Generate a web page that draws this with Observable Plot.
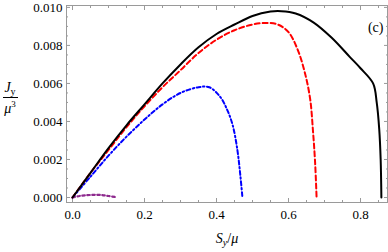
<!DOCTYPE html>
<html>
<head>
<meta charset="utf-8">
<script src="https://cdn.jsdelivr.net/npm/d3@7"></script>
<script src="https://cdn.jsdelivr.net/npm/@observablehq/plot@0.6"></script>
<style>
  html, body { margin: 0; padding: 0; background: white; }
  #chart { width: 388px; height: 252px; }
</style>
</head>
<body>
<div id="chart"></div>
<script>
// ---- data ----
const blackX = [0, 0.05, 0.1, 0.15, 0.2, 0.25, 0.3, 0.35, 0.4, 0.45, 0.5, 0.55, 0.58, 0.62, 0.67, 0.72, 0.77, 0.80, 0.835, 0.845, 0.852, 0.856, 0.858];
const blackY = [0, 0.0013, 0.0026, 0.0038, 0.0049, 0.0060, 0.0070, 0.0079, 0.0086, 0.0091, 0.00955, 0.00978, 0.0098, 0.00968, 0.0092, 0.0084, 0.0074, 0.0068, 0.0060, 0.0050, 0.0036, 0.0020, 0.0];

const redX = [0, 0.05, 0.1, 0.15, 0.2, 0.25, 0.3, 0.35, 0.4, 0.45, 0.5, 0.54, 0.57, 0.6, 0.625, 0.645, 0.66, 0.668, 0.674, 0.678];
const redY = [0, 0.0013, 0.0025, 0.0037, 0.0048, 0.0058, 0.0067, 0.0076, 0.0083, 0.0088, 0.0091, 0.00918, 0.0091, 0.0087, 0.0078, 0.0066, 0.0052, 0.0035, 0.0018, 0.0];

const blueX = [0, 0.05, 0.1, 0.15, 0.2, 0.25, 0.3, 0.35, 0.38, 0.41, 0.43, 0.445, 0.458, 0.466, 0.472];
const blueY = [0, 0.0011, 0.0022, 0.0032, 0.0041, 0.0049, 0.0055, 0.0058, 0.0058, 0.0053, 0.0046, 0.0038, 0.0025, 0.0012, 0.0];

const purpleX = [0, 0.02, 0.04, 0.06, 0.08, 0.1, 0.12];
const purpleY = [0, 0.00008, 0.00012, 0.00014, 0.00013, 0.00008, 0.00002];

const xMajorTicks = [0, 0.2, 0.4, 0.6, 0.8];
const xMinorTicks = [0.05, 0.1, 0.15, 0.25, 0.3, 0.35, 0.45, 0.5, 0.55, 0.65, 0.7, 0.75, 0.85];
const yMajorTicks = [0, 0.002, 0.004, 0.006, 0.008, 0.010];
const yMinorTicks = [0.0005, 0.001, 0.0015, 0.0025, 0.003, 0.0035, 0.0045, 0.005, 0.0055, 0.0065, 0.007, 0.0075, 0.0085, 0.009, 0.0095];

const toRows = (xs, ys) => xs.map((x, i) => ({x, y: ys[i]}));
const blackData = toRows(blackX, blackY);
const redData = toRows(redX, redY);
const blueData = toRows(blueX, blueY);
const purpleData = toRows(purpleX, purpleY);

const frameColor = "#9a9a9a";
const fmtX = d3.format(".1f");
const fmtY = d3.format(".3f");

const tickAxes = [];
for (const anchor of ["bottom", "top"]) {
  tickAxes.push(Plot.axisX({anchor, ticks: xMinorTicks, tickSize: -2, stroke: frameColor, fill: "none", label: null}));
  tickAxes.push(Plot.axisX({anchor, ticks: xMajorTicks, tickSize: -4, stroke: frameColor, fill: "none", label: null}));
}
for (const anchor of ["left", "right"]) {
  tickAxes.push(Plot.axisY({anchor, ticks: yMinorTicks, tickSize: -2, stroke: frameColor, fill: "none", label: null}));
  tickAxes.push(Plot.axisY({anchor, ticks: yMajorTicks, tickSize: -4, stroke: frameColor, fill: "none", label: null}));
}

const chart = Plot.plot({
  width: 388,
  height: 252,
  marginLeft: 66,
  marginRight: 1,
  marginTop: 5,
  marginBottom: 50,
  x: {domain: [-0.0167, 0.875], label: null},
  y: {domain: [-0.000263, 0.0101], label: null},
  style: {fontFamily: "'Liberation Serif', serif", fontSize: "13px", background: "white", color: "black"},
  marks: [
    Plot.frame({stroke: frameColor}),
    ...tickAxes,
    Plot.axisX({anchor: "bottom", ticks: xMajorTicks, tickSize: 0, tickPadding: 7, tickFormat: fmtX, label: null, fill: "black"}),
    Plot.axisY({anchor: "left", ticks: yMajorTicks, tickSize: 0, tickPadding: 4, tickFormat: fmtY, label: null, fill: "black"}),
    Plot.line(purpleData, {x: "x", y: "y", stroke: "#8e2a8e", strokeWidth: 2.2, strokeDasharray: "2.5,2.5", curve: "catmull-rom"}),
    Plot.line(blueData, {x: "x", y: "y", stroke: "#0000ff", strokeWidth: 2, strokeDasharray: "4,2.5,1.5,2.5", curve: "catmull-rom"}),
    Plot.line(redData, {x: "x", y: "y", stroke: "#ff0000", strokeWidth: 2, strokeDasharray: "5,3", curve: "catmull-rom"}),
    Plot.line(blackData, {x: "x", y: "y", stroke: "black", strokeWidth: 2, curve: "catmull-rom"}),
    Plot.text(["(c)"], {frameAnchor: "top-right", dx: -4, dy: 22, textAnchor: "end", lineAnchor: "middle", fontSize: 14})
  ]
});

document.getElementById("chart").appendChild(chart);

// axis titles (math-style), as real text
const svg = d3.select(chart);
const g = svg.append("g").attr("font-family", "'Liberation Serif', serif").attr("fill", "black");
// y label: J_y / mu^3
const num = g.append("text").attr("x", 10).attr("y", 92).attr("text-anchor", "middle").attr("font-size", 14);
num.append("tspan").attr("font-style", "italic").text("J");
num.append("tspan").attr("font-size", 10).attr("dy", 3).text("y");
g.append("line").attr("x1", 3).attr("x2", 18).attr("y1", 97.5).attr("y2", 97.5).attr("stroke", "black").attr("stroke-width", 1);
const den = g.append("text").attr("x", 10).attr("y", 113).attr("text-anchor", "middle").attr("font-size", 14);
den.append("tspan").attr("font-style", "italic").text("μ");
den.append("tspan").attr("font-size", 9).attr("dy", -6).text("3");
// x label: S_y / mu
const xl = g.append("text").attr("x", 227).attr("y", 243).attr("text-anchor", "middle").attr("font-size", 14);
xl.append("tspan").attr("font-style", "italic").text("S");
xl.append("tspan").attr("font-size", 10).attr("font-style", "italic").attr("dy", 3).text("y");
xl.append("tspan").attr("dy", -3).text("/");
xl.append("tspan").attr("font-style", "italic").text("μ");
</script>
</body>
</html>
